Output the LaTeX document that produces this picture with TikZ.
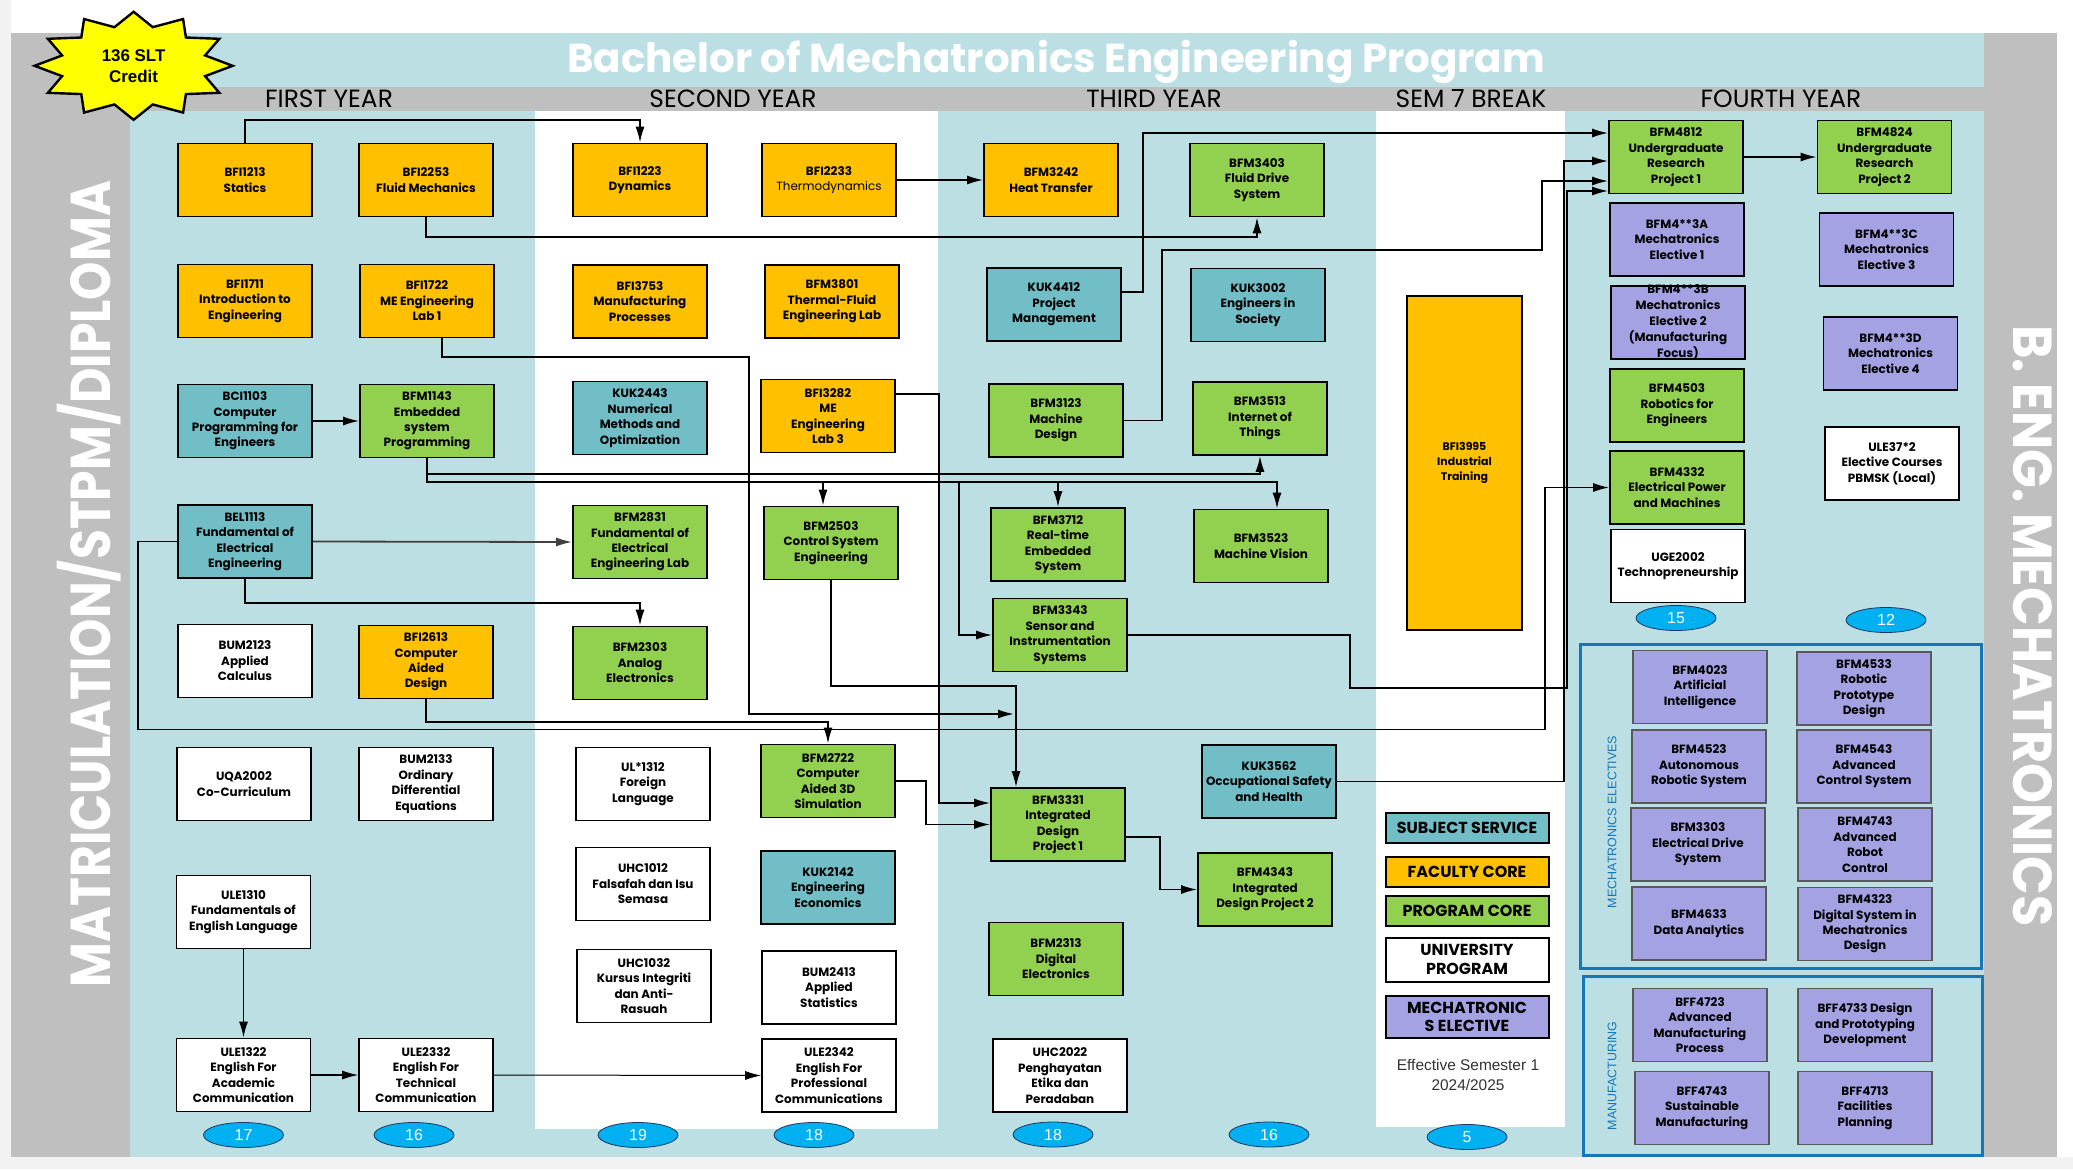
\documentclass[tikz,border=0pt]{standalone}
\usepackage{fontspec}
\setmainfont{Poppins}
\newfontfamily\arialfont{Liberation Sans}
\usetikzlibrary{arrows.meta,shapes.geometric}
\definecolor{fcore}{RGB}{255,192,0}
\definecolor{pcore}{RGB}{146,208,80}
\definecolor{sserv}{RGB}{114,190,198}
\definecolor{melec}{RGB}{164,162,226}
\definecolor{paleb}{RGB}{187,223,227}
\definecolor{bandg}{RGB}{191,191,191}
\definecolor{edgeg}{RGB}{242,242,242}
\definecolor{grpblue}{RGB}{22,118,186}
\definecolor{credb}{RGB}{0,176,240}
\definecolor{navyb}{RGB}{31,56,100}
\definecolor{starY}{RGB}{255,255,0}
\begin{document}
\begin{tikzpicture}[x=1bp,y=-1bp,
  course/.style={draw,line width=1.6bp,minimum width=134bp,minimum height=73bp,inner sep=1bp,align=center,font=\bfseries\fontsize{12}{15.5}\selectfont},
  fac/.style={course,fill=fcore},
  prog/.style={course,fill=pcore},
  serv/.style={course,fill=sserv},
  univ/.style={course,fill=white},
  elec/.style={course,fill=melec},
  opt/.style={course,fill=melec,draw=black!65},
  key/.style={draw,line width=2bp,minimum width=163bp,inner sep=1bp,align=center,font=\bfseries\fontsize{16}{18.5}\selectfont},
  credit/.style={ellipse,draw=navyb,line width=0.8bp,fill=credb,minimum width=80bp,minimum height=25bp,inner sep=0pt,text=white,font=\arialfont\fontsize{16}{16}\selectfont},
  year/.style={font=\fontsize{25}{25}\selectfont},
  grp/.style={draw=grpblue,line width=3bp},
  grplabel/.style={rotate=90,text=grpblue,font=\arialfont\fontsize{12.5}{12.5}\selectfont},
  link/.style={line width=1.8bp,-{Latex[length=16bp,width=9bp]}}]
\useasboundingbox (0,0) rectangle (2073,1169);
\fill[white] (0,0) rectangle (2073,1169);
\fill[edgeg] (0,0) rectangle (11,1169);
\fill[edgeg] (0,1157) rectangle (2073,1169);
\fill[bandg] (11,33) rectangle (130,1157);
\fill[paleb] (130,33) rectangle (1984,1157);
\fill[bandg] (1984,33) rectangle (2057,1157);
\fill[bandg] (130,87) rectangle (1984,111);
\fill[white] (535,111) rectangle (938,1129);
\fill[white] (1376,111) rectangle (1565,1127);

\node[text=white,font=\bfseries\fontsize{40.5}{42}\selectfont] (title) at (1056,62) {Bachelor of Mechatronics Engineering Program};
\node[year] (y1) at (329,99) {FIRST YEAR};
\node[year] (y2) at (733,99) {SECOND YEAR};
\node[year] (y3) at (1154,99) {THIRD YEAR};
\node[year] (y7) at (1471,99) {SEM 7 BREAK};
\node[year] (y4) at (1781,99) {FOURTH YEAR};
\node[rotate=90,text=white,font=\bfseries\fontsize{49}{49}\selectfont] (entry) at (89.5,584) {\scalebox{1}[1.15]{MATRICULATION/STPM/DIPLOMA}};
\node[rotate=-90,text=white,font=\bfseries\fontsize{51}{51}\selectfont] (degree) at (2033,626) {\scalebox{1}[1.08]{B. ENG. MECHATRONICS}};

\begin{scope}[shift={(133.6,65.8)}]
\draw[line width=2.4bp,fill=starY] (0:99 and 54) \foreach \i in {1,...,23} { -- ({15*\i}:{isodd(\i) ? 74 : 99} and {isodd(\i) ? 40 : 54}) } -- cycle;
\end{scope}
\node[align=center,font=\arialfont\bfseries\fontsize{17}{21}\selectfont] (slt) at (133.6,66.5) {136 SLT\\Credit};

\node[fac] (BFI1213) at (245,180) {BFI1213\\Statics};
\node[fac] (BFI1711) at (245,301) {BFI1711\\Introduction to\\Engineering};
\node[serv] (BCI1103) at (245,421) {BCI1103\\Computer\\Programming for\\Engineers};
\node[serv] (BEL1113) at (245,541.5) {BEL1113\\Fundamental of\\Electrical\\Engineering};
\node[univ] (BUM2123) at (245,661) {BUM2123\\Applied\\Calculus};
\node[univ] (UQA2002) at (244,784) {UQA2002\\Co-Curriculum};
\node[univ] (ULE1310) at (243.5,912) {ULE1310\\Fundamentals of\\English Language};
\node[univ] (ULE1322) at (243.5,1075) {ULE1322\\English For\\Academic\\Communication};
\node[fac] (BFI2253) at (426,180) {BFI2253\\Fluid Mechanics};
\node[fac] (BFI1722) at (427,301) {BFI1722\\ME Engineering\\Lab 1};
\node[prog] (BFM1143) at (427,421) {BFM1143\\Embedded\\system\\Programming};
\node[fac] (BFI2613) at (426,662) {BFI2613\\Computer\\Aided\\Design};
\node[univ] (BUM2133) at (426,784) {BUM2133\\Ordinary\\Differential\\Equations};
\node[univ] (ULE2332) at (426,1075) {ULE2332\\English For\\Technical\\Communication};

\node[fac] (BFI1223) at (640,180) {BFI1223\\Dynamics};
\node[fac] (BFI3753) at (640,301.5) {BFI3753\\Manufacturing\\Processes};
\node[serv] (KUK2443) at (640,418) {KUK2443\\Numerical\\Methods and\\Optimization};
\node[prog] (BFM2831) at (640,542) {BFM2831\\Fundamental of\\Electrical\\Engineering Lab};
\node[prog] (BFM2303) at (640,663) {BFM2303\\Analog\\Electronics};
\node[univ] (UL1312) at (643,784) {UL*1312\\Foreign\\Language};
\node[univ] (UHC1012) at (643,884) {UHC1012\\Falsafah dan Isu\\Semasa};
\node[univ] (UHC1032) at (644,986) {UHC1032\\Kursus Integriti\\dan Anti-\\Rasuah};
\node[fac] (BFI2233) at (829,180) {BFI2233\\\mdseries Thermodynamics};
\node[fac] (BFM3801) at (832,301.5) {BFM3801\\Thermal-Fluid\\Engineering Lab};
\node[fac] (BFI3282) at (828,416) {BFI3282\\ME\\Engineering\\Lab 3};
\node[prog] (BFM2503) at (831,543) {BFM2503\\Control System\\Engineering};
\node[prog] (BFM2722) at (828,781) {BFM2722\\Computer\\Aided 3D\\Simulation};
\node[serv] (KUK2142) at (828,887.5) {KUK2142\\Engineering\\Economics};
\node[univ] (BUM2413) at (829,987.5) {BUM2413\\Applied\\Statistics};
\node[univ] (ULE2342) at (829,1075.5) {ULE2342\\English For\\Professional\\Communications};

\node[fac] (BFM3242) at (1051,180) {BFM3242\\Heat Transfer};
\node[serv] (KUK4412) at (1054,304.5) {KUK4412\\Project\\Management};
\node[prog] (BFM3123) at (1056,420.5) {BFM3123\\Machine\\Design};
\node[prog] (BFM3712) at (1058,544.5) {BFM3712\\Real-time\\Embedded\\System};
\node[prog] (BFM3343) at (1060,635) {BFM3343\\Sensor and\\Instrumentation\\Systems};
\node[prog] (BFM3331) at (1058,824.5) {BFM3331\\Integrated\\Design\\Project 1};
\node[prog] (BFM2313) at (1056,959) {BFM2313\\Digital\\Electronics};
\node[univ] (UHC2022) at (1060,1075.5) {UHC2022\\Penghayatan\\Etika dan\\Peradaban};
\node[prog] (BFM3403) at (1257,180) {BFM3403\\Fluid Drive\\System};
\node[serv] (KUK3002) at (1258,305) {KUK3002\\Engineers in\\Society};
\node[prog] (BFM3513) at (1260,418.5) {BFM3513\\Internet of\\Things};
\node[prog] (BFM3523) at (1261,546) {BFM3523\\Machine Vision};
\node[serv] (KUK3562) at (1269,781.5) {KUK3562\\Occupational Safety\\and Health};
\node[prog] (BFM4343) at (1265,889.5) {BFM4343\\Integrated\\Design Project 2};

\node[fac,minimum width=115bp,minimum height=334bp,font=\bfseries\fontsize{11}{15}\selectfont] (BFI3995) at (1464.5,463) {BFI3995\\Industrial\\Training};
\node[key,fill=sserv,minimum height=30bp] (kserv) at (1467,828) {SUBJECT SERVICE};
\node[key,fill=fcore,minimum height=30bp] (kfac) at (1467,872) {FACULTY CORE};
\node[key,fill=pcore,minimum height=30bp] (kprog) at (1467,910.5) {PROGRAM CORE};
\node[key,fill=white,minimum height=44bp] (kuniv) at (1467,959.5) {UNIVERSITY\\PROGRAM};
\node[key,fill=melec,minimum height=42bp] (kelec) at (1467,1017) {MECHATRONIC\\S ELECTIVE};
\node[align=center,text=black!80,font=\arialfont\fontsize{15.5}{21}\selectfont] (eff) at (1468,1075) {Effective Semester 1\\2024/2025};

\node[prog] (BFM4812) at (1676,157) {BFM4812\\Undergraduate\\Research\\Project 1};
\node[elec] (BFM43A) at (1677,239.5) {BFM4**3A\\Mechatronics\\Elective 1};
\node[elec] (BFM43B) at (1678,322.5) {};
\node[align=center,font=\bfseries\fontsize{12}{16}\selectfont] (BFM43Btext) at (BFM43B) {BFM4**3B\\Mechatronics\\Elective 2\\(Manufacturing\\Focus)};
\node[prog] (BFM4503) at (1677,405.5) {BFM4503\\Robotics for\\Engineers};
\node[prog] (BFM4332) at (1677,487.5) {BFM4332\\Electrical Power\\and Machines};
\node[univ] (UGE2002) at (1678,566) {UGE2002\\Technopreneurship};
\node[prog] (BFM4824) at (1884.5,157) {BFM4824\\Undergraduate\\Research\\Project 2};
\node[elec] (BFM43C) at (1886.5,249.5) {BFM4**3C\\Mechatronics\\Elective 3};
\node[elec] (BFM43D) at (1890.5,353.5) {BFM4**3D\\Mechatronics\\Elective 4};
\node[univ] (ULE372) at (1892,463.5) {ULE37*2\\Elective Courses\\PBMSK (Local)};

\draw[grp] (1580,644) rectangle (1981,968);
\draw[grp] (1583,976.5) rectangle (1982,1155);
\node[grplabel] (lmech) at (1612,822) {MECHATRONICS ELECTIVES};
\node[grplabel] (lmanu) at (1612,1076) {MANUFACTURING};
\node[opt] (BFM4023) at (1700,687) {BFM4023\\Artificial\\Intelligence};
\node[opt] (BFM4533) at (1864,688.5) {BFM4533\\Robotic\\Prototype\\Design};
\node[opt] (BFM4523) at (1699,766.5) {BFM4523\\Autonomous\\Robotic System};
\node[opt] (BFM4543) at (1864,766.5) {BFM4543\\Advanced\\Control System};
\node[opt] (BFM3303) at (1698,844.5) {BFM3303\\Electrical Drive\\System};
\node[opt] (BFM4743) at (1865,844.5) {BFM4743\\Advanced\\Robot\\Control};
\node[opt] (BFM4633) at (1699,923.5) {BFM4633\\Data Analytics};
\node[opt] (BFM4323) at (1865,924) {BFM4323\\Digital System in\\Mechatronics\\Design};
\node[opt] (BFF4723) at (1700,1025) {BFF4723\\Advanced\\Manufacturing\\Process};
\node[opt] (BFF4733) at (1865,1025) {BFF4733 Design\\and Prototyping\\Development};
\node[opt] (BFF4743) at (1702,1108) {BFF4743\\Sustainable\\Manufacturing};
\node[opt] (BFF4713) at (1865,1108) {BFF4713\\Facilities\\Planning};

\node[credit] (c1a) at (243.5,1135) {17};
\node[credit] (c1b) at (414,1135) {16};
\node[credit] (c2a) at (638,1135) {19};
\node[credit] (c2b) at (814,1135) {18};
\node[credit] (c3a) at (1053,1134.5) {18};
\node[credit] (c3b) at (1269,1134.5) {16};
\node[credit] (c7) at (1467,1137) {5};
\node[credit] (c4a) at (1676,618) {15};
\node[credit] (c4b) at (1886,620) {12};

\coordinate (k1) at (1016,686);
\coordinate (k2) at (749,714);
\coordinate (k2e) at (1014,714);
\coordinate (k4) at (1277,482);
\coordinate (k5) at (823,482);
\coordinate (k6) at (959,482);
\coordinate (k7) at (1545,729.5);
\coordinate (k9) at (939,803);
\coordinate (k10) at (1542,250);
\coordinate (k11a) at (1350,688);
\coordinate (k11) at (1567,688);
\coordinate (k12) at (1564,781.5);

\draw[link] (BFI1213.north) -- ++(0,-23) -| (BFI1223.north);
\draw[link] (BFI2253.south) -- ++(0,20) -| (BFM3403.south);
\draw[link] ([xshift=15bp]BFI1722.south) -- ++(0,19) -| (k2) -- (k2e);
\draw[link] (BFM2503.south) |- (k1) -- (k1 |- BFM3331.north);
\draw[link] (BCI1103.east) -- (BFM1143.west);
\draw[link] (BFM1143.south) -- ++(0,16) -| (BFM3513.south);
\draw[link] (BFM1143.south) |- (k4) -- (k4 |- BFM3523.north);
\draw[link] (k5) -- (k5 |- BFM2503.north);
\draw[link] (BFM3712.north |- k4) -- (BFM3712.north);
\draw[link] (k6) |- (BFM3343.west);
\draw[link,draw=black!75] (BEL1113.east) -- (BFM2831.west);
\draw[link] (BEL1113.south) -- ++(0,24) -| (BFM2303.north);
\draw[link] (BEL1113.west) -- ++(-39,0) |- (k7) |- (BFM4332.west);
\draw[link] (BFI2613.south) -- ++(0,23) -| (BFM2722.north);
\draw[link] (BFI2233.east) -- (BFM3242.west);
\draw[link] ([yshift=22bp]BFI3282.east) -| (k9) -- (k9 -| BFM3331.west);
\draw[link] (BFM2722.east) -- ++(30,0) |- (BFM3331.west);
\draw[link] ([yshift=-12.5bp]BFM3331.east) -- ++(34,0) |- (BFM4343.west);
\draw[link] ([yshift=12.5bp]KUK4412.east) -- ++(21,0) |- ([yshift=24bp]BFM4812.west);
\draw[link] (BFM3123.east) -- ++(38,0) |- (k10) |- ([yshift=-24bp]BFM4812.west);
\draw[link] (BFM3343.east) -| (k11a) -- (k11) |- ([yshift=-34bp]BFM4812.west);
\draw[link] (KUK3562.east) -- (k12) |- ([yshift=-4bp]BFM4812.west);
\draw[link] (BFM4812.east) -- (BFM4824.west);
\draw[link] (ULE1310.south) -- (ULE1322.north);
\draw[link,line width=1.2bp] (ULE1322.east) -- (ULE2332.west);
\draw[link,line width=1bp] (ULE2332.east) -- (ULE2342.west);
\end{tikzpicture}
\end{document}
